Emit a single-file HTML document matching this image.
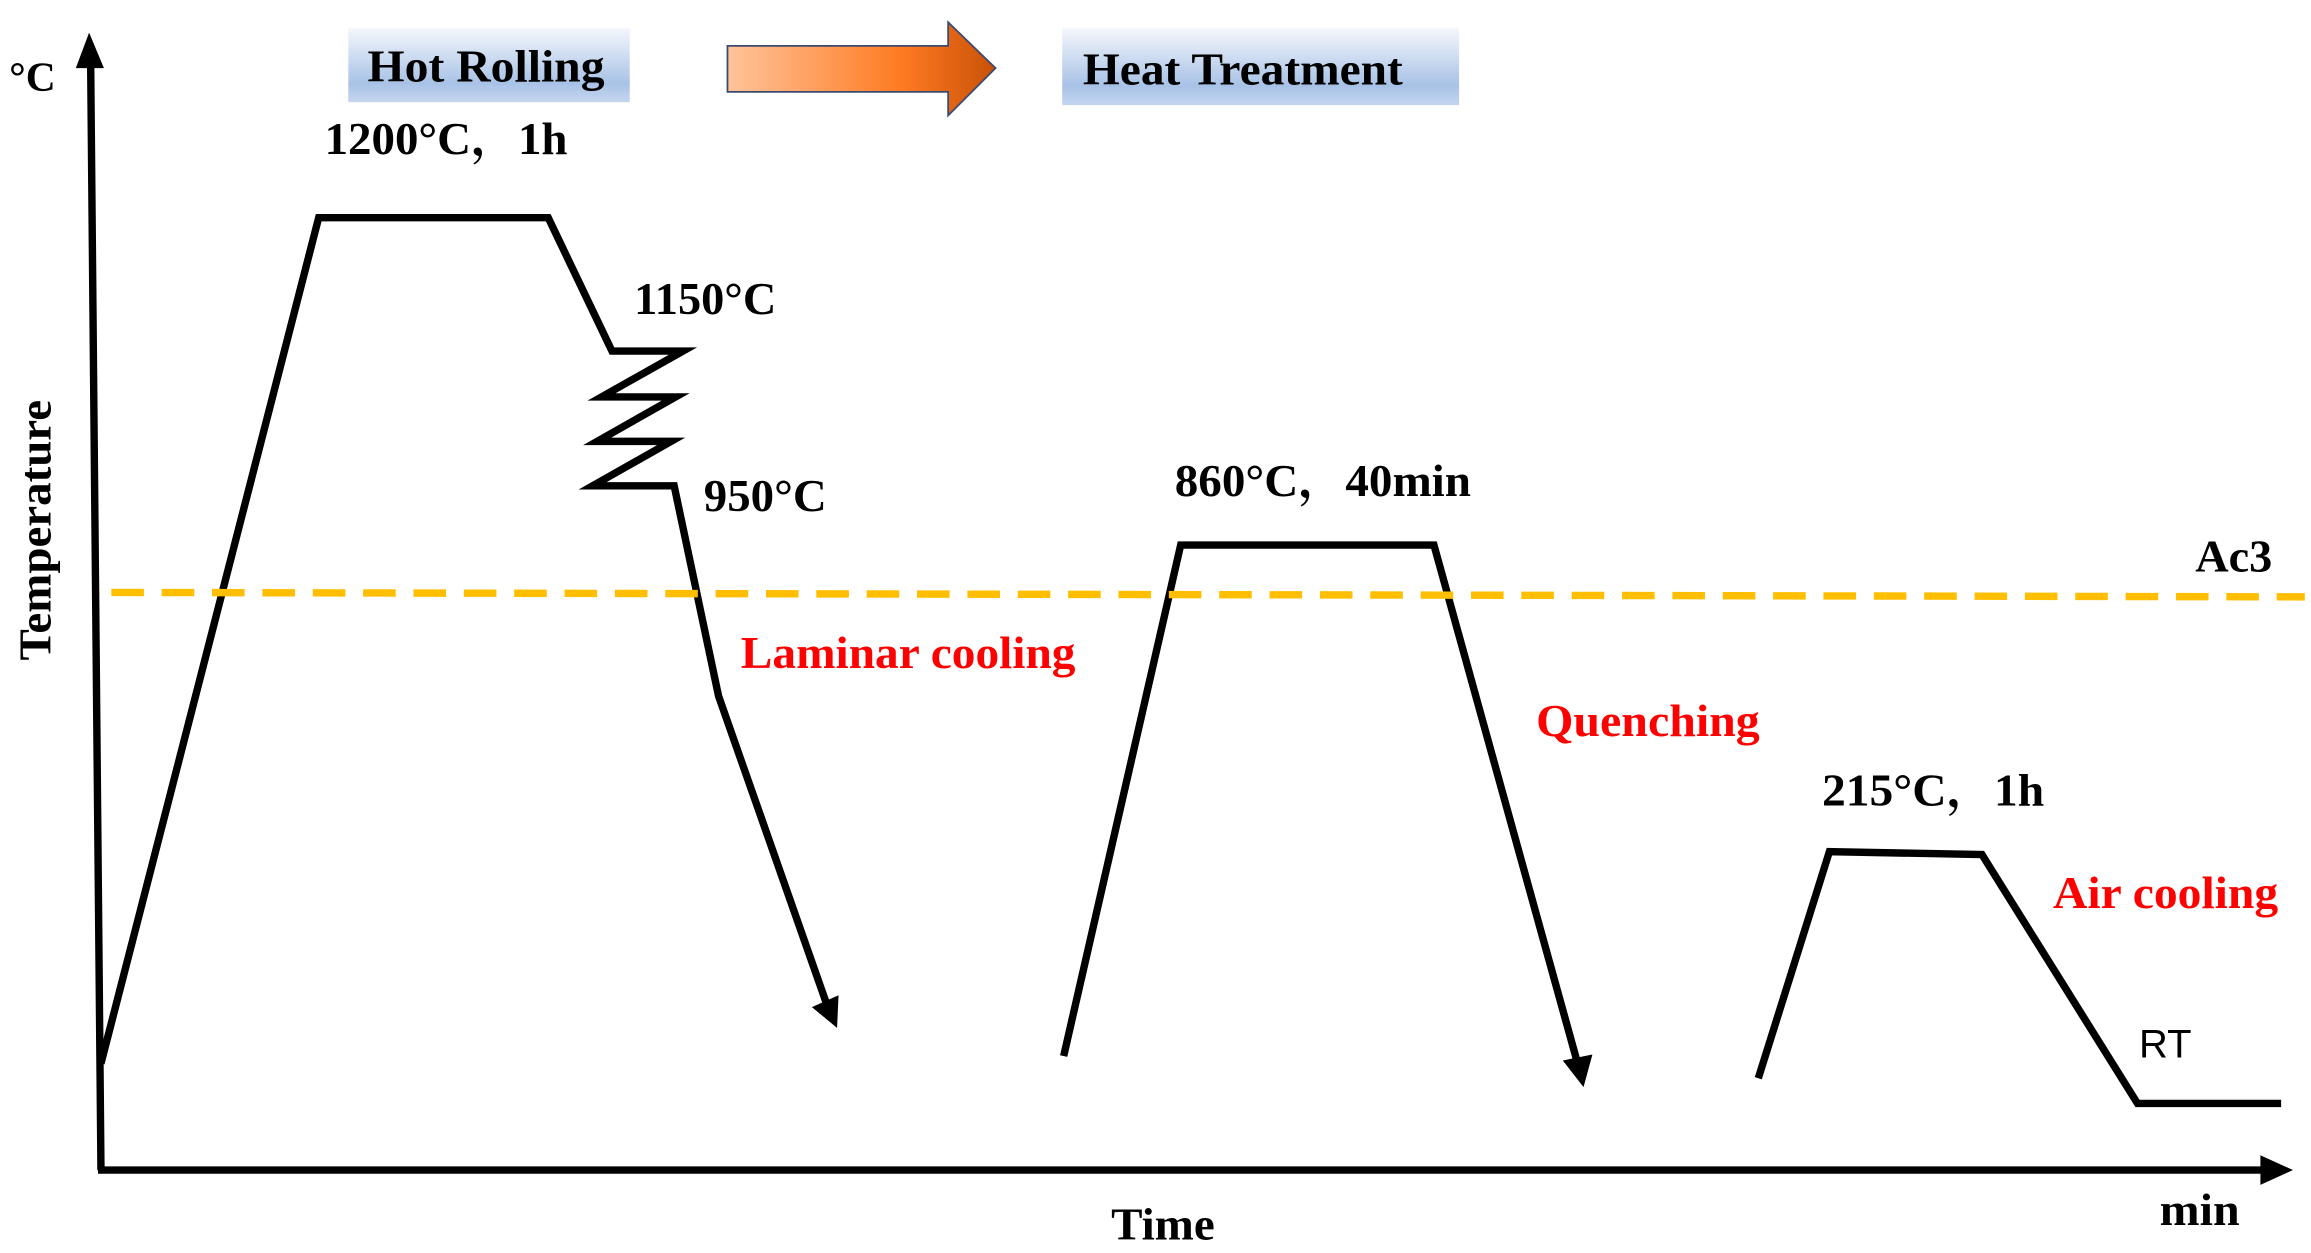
<!DOCTYPE html>
<html><head><meta charset="utf-8"><style>html,body{margin:0;padding:0;background:#fff}svg{display:block}</style></head>
<body>
<svg width="2311" height="1253" viewBox="0 0 1560 846" xmlns="http://www.w3.org/2000/svg">
<defs>
<linearGradient id="bl" x1="0" y1="0" x2="0" y2="1"><stop offset="0" stop-color="#f4f7fc"/><stop offset="0.75" stop-color="#a8c2e6"/><stop offset="1" stop-color="#c4d6ef"/></linearGradient>
<linearGradient id="or" x1="0" y1="0" x2="1" y2="0"><stop offset="0" stop-color="#ffc49a"/><stop offset="0.65" stop-color="#ff7a22"/><stop offset="1" stop-color="#c85208"/></linearGradient>
</defs>
<g font-family="Liberation Serif, serif" font-weight="bold">
<rect x="235" y="19" width="190" height="50" fill="url(#bl)"/>
<text x="248" y="55" font-size="31" textLength="160" lengthAdjust="spacingAndGlyphs">Hot Rolling</text>
<rect x="717" y="19" width="268" height="52" fill="url(#bl)"/>
<text x="731" y="57" font-size="31" textLength="216" lengthAdjust="spacingAndGlyphs">Heat Treatment</text>
<polygon points="491,31 640,31 640,15 672,46 640,78 640,62 491,62" fill="url(#or)" stroke="#3a4a70" stroke-width="1.2"/>
<text x="6" y="61" font-size="28">°C</text>
<text transform="translate(34,358) rotate(-90)" font-size="31" text-anchor="middle" textLength="176" lengthAdjust="spacingAndGlyphs">Temperature</text>
</g>
<g stroke="#000" stroke-width="5" fill="none" stroke-linejoin="miter">
<line x1="68" y1="790" x2="61" y2="38"/>
<line x1="66" y1="790" x2="1530" y2="790"/>
<polyline points="68,718 215,147 370,147 413,237 461,237 406,268 456,268 403,298 453,298 400,328 455,328 485,470 558,678"/>
<polyline points="718,713 797,368 968,368 1065,718"/>
<polyline points="1187,728 1235,575 1338,577 1443,745 1540,745"/>
</g>
<polygon points="60,22 51,46 70,46" fill="#000"/>
<polygon points="1548,790 1526,780 1526,800" fill="#000"/>
<polygon points="565,694 548,680 566,672" fill="#000"/>
<polygon points="1069,734 1055,716 1075,712" fill="#000"/>
<line x1="75" y1="400" x2="1556" y2="403" stroke="#ffbf00" stroke-width="5" stroke-dasharray="22,12"/>
<g font-family="Liberation Serif, 'Noto Serif CJK SC', serif" font-weight="bold" font-size="31" lengthAdjust="spacingAndGlyphs">
<text x="219" y="104" textLength="164" lengthAdjust="spacingAndGlyphs">1200°C，1h</text>
<text x="428" y="212" textLength="96" lengthAdjust="spacingAndGlyphs">1150°C</text>
<text x="475" y="345" textLength="83" lengthAdjust="spacingAndGlyphs">950°C</text>
<text x="793" y="335" textLength="200" lengthAdjust="spacingAndGlyphs">860°C，40min</text>
<text x="1482" y="386" textLength="52" lengthAdjust="spacingAndGlyphs">Ac3</text>
<text x="1230" y="544" textLength="150" lengthAdjust="spacingAndGlyphs">215°C，1h</text>
<text x="750" y="837" textLength="70" lengthAdjust="spacingAndGlyphs">Time</text>
<text x="1458" y="827" textLength="54" lengthAdjust="spacingAndGlyphs">min</text>
<g fill="#ff0000"><text x="500" y="451" textLength="226" lengthAdjust="spacingAndGlyphs">Laminar cooling</text><text x="1037" y="497" textLength="151" lengthAdjust="spacingAndGlyphs">Quenching</text><text x="1386" y="613" textLength="152" lengthAdjust="spacingAndGlyphs">Air cooling</text></g>
</g>
<text x="1444" y="714" font-family="Liberation Sans, sans-serif" font-size="27">RT</text>
</svg>
</body></html>
